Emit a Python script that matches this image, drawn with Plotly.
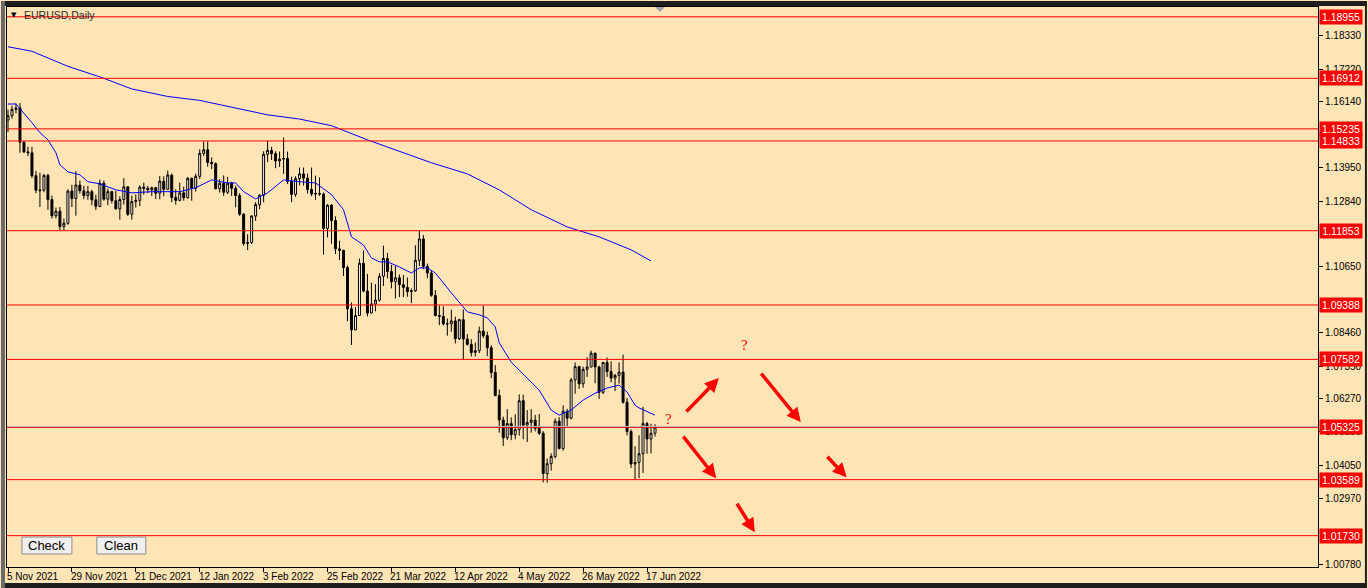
import plotly.graph_objects as go

# ---------------- data ----------------
opens = [1.1553, 1.1567, 1.1588, 1.1593, 1.1479, 1.1447, 1.1444, 1.1368, 1.1318, 1.1320,
         1.1369, 1.1289, 1.1235, 1.1250, 1.1199, 1.1210, 1.1317, 1.1292, 1.1337, 1.1318,
         1.1302, 1.1315, 1.1288, 1.1266, 1.1343, 1.1290, 1.1315, 1.1285, 1.1258, 1.1289,
         1.1331, 1.1240, 1.1282, 1.1286, 1.1330, 1.1326, 1.1321, 1.1328, 1.1310, 1.1350,
         1.1323, 1.1370, 1.1296, 1.1286, 1.1311, 1.1295, 1.1359, 1.1326, 1.1366, 1.1442,
         1.1454, 1.1412, 1.1408, 1.1325, 1.1343, 1.1313, 1.1343, 1.1326, 1.1302, 1.1240,
         1.1143, 1.1146, 1.1234, 1.1272, 1.1303, 1.1439, 1.1452, 1.1441, 1.1417, 1.1423,
         1.1425, 1.1349, 1.1306, 1.1358, 1.1374, 1.1360, 1.1322, 1.1307, 1.1309, 1.1307,
         1.1193, 1.1270, 1.1219, 1.1125, 1.1120, 1.1063, 1.0926, 1.0856, 1.0904, 1.1077,
         1.0985, 1.0912, 1.0942, 1.0955, 1.1034, 1.1093, 1.1050, 1.1016, 1.1029, 1.1006,
         1.0997, 1.0983, 1.0986, 1.1087, 1.1158, 1.1067, 1.1045, 1.0971, 1.0904, 1.0901,
         1.0876, 1.0876, 1.0886, 1.0827, 1.0890, 1.0826, 1.0808, 1.0781, 1.0787, 1.0852,
         1.0837, 1.0797, 1.0715, 1.0638, 1.0557, 1.0498, 1.0545, 1.0508, 1.0525, 1.0621,
         1.0540, 1.0549, 1.0557, 1.0529, 1.0513, 1.0379, 1.0412, 1.0436, 1.0553, 1.0462,
         1.0586, 1.0563, 1.0690, 1.0734, 1.0677, 1.0725, 1.0733, 1.0779, 1.0733, 1.0649,
         1.0748, 1.0718, 1.0696, 1.0705, 1.0716, 1.0616, 1.0519, 1.0411, 1.0416, 1.0445,
         1.0545, 1.0494, 1.0513]
highs = [1.1587, 1.1600, 1.1608, 1.1609, 1.1483, 1.1464, 1.1464, 1.1384, 1.1378, 1.1374,
         1.1374, 1.1302, 1.1262, 1.1264, 1.1226, 1.1323, 1.1338, 1.1383, 1.1352, 1.1334,
         1.1334, 1.1321, 1.1305, 1.1355, 1.1352, 1.1325, 1.1318, 1.1318, 1.1300, 1.1360,
         1.1333, 1.1302, 1.1306, 1.1336, 1.1345, 1.1334, 1.1332, 1.1331, 1.1367, 1.1366,
         1.1385, 1.1375, 1.1323, 1.1345, 1.1332, 1.1364, 1.1362, 1.1375, 1.1455, 1.1482,
         1.1482, 1.1429, 1.1412, 1.1356, 1.1369, 1.1364, 1.1348, 1.1335, 1.1310, 1.1244,
         1.1174, 1.1237, 1.1280, 1.1306, 1.1449, 1.1483, 1.1464, 1.1449, 1.1448, 1.1495,
         1.1448, 1.1365, 1.1366, 1.1395, 1.1395, 1.1375, 1.1395, 1.1368, 1.1362, 1.1312,
         1.1274, 1.1274, 1.1233, 1.1152, 1.1122, 1.1070, 1.0947, 1.0932, 1.1093, 1.1120,
         1.1042, 1.1013, 1.1008, 1.1044, 1.1136, 1.1112, 1.1072, 1.1068, 1.1040, 1.1038,
         1.1030, 1.0994, 1.1137, 1.1185, 1.1171, 1.1076, 1.1054, 1.0988, 1.0937, 1.0934,
         1.0894, 1.0923, 1.0900, 1.0893, 1.0924, 1.0842, 1.0825, 1.0814, 1.0867, 1.0936,
         1.0850, 1.0805, 1.0739, 1.0658, 1.0568, 1.0593, 1.0566, 1.0576, 1.0642, 1.0641,
         1.0590, 1.0593, 1.0574, 1.0577, 1.0520, 1.0429, 1.0446, 1.0562, 1.0566, 1.0606,
         1.0594, 1.0697, 1.0748, 1.0737, 1.0734, 1.0765, 1.0787, 1.0780, 1.0737, 1.0750,
         1.0764, 1.0752, 1.0710, 1.0748, 1.0774, 1.0630, 1.0525, 1.0470, 1.0506, 1.0601,
         1.0551, 1.0545, 1.0543]
lows = [1.1513, 1.1557, 1.1575, 1.1444, 1.1443, 1.1433, 1.1360, 1.1310, 1.1264, 1.1313,
        1.1255, 1.1226, 1.1226, 1.1186, 1.1186, 1.1205, 1.1264, 1.1235, 1.1308, 1.1290,
        1.1288, 1.1270, 1.1254, 1.1263, 1.1285, 1.1270, 1.1276, 1.1255, 1.1222, 1.1272,
        1.1234, 1.1222, 1.1262, 1.1267, 1.1305, 1.1310, 1.1300, 1.1290, 1.1290, 1.1300,
        1.1320, 1.1280, 1.1272, 1.1283, 1.1285, 1.1292, 1.1285, 1.1315, 1.1357, 1.1433,
        1.1398, 1.1390, 1.1322, 1.1312, 1.1301, 1.1307, 1.1301, 1.1263, 1.1235, 1.1136,
        1.1121, 1.1141, 1.1218, 1.1257, 1.1280, 1.1413, 1.1420, 1.1393, 1.1397, 1.1374,
        1.1340, 1.1280, 1.1298, 1.1336, 1.1335, 1.1309, 1.1300, 1.1288, 1.1301, 1.1106,
        1.1163, 1.1142, 1.1108, 1.1088, 1.1035, 1.0885, 1.0806, 1.0855, 1.0902, 1.0981,
        1.0901, 1.0911, 1.0918, 1.0950, 1.1002, 1.1027, 1.0994, 1.0960, 1.0965, 1.0965,
        1.0966, 1.0945, 1.0982, 1.1068, 1.1058, 1.1028, 1.0966, 1.0901, 1.0872, 1.0871,
        1.0837, 1.0850, 1.0811, 1.0822, 1.0758, 1.0804, 1.0768, 1.0768, 1.0779, 1.0829,
        1.0769, 1.0696, 1.0636, 1.0515, 1.0471, 1.0491, 1.0490, 1.0493, 1.0505, 1.0493,
        1.0484, 1.0515, 1.0519, 1.0507, 1.0350, 1.0349, 1.0389, 1.0429, 1.0459, 1.0455,
        1.0533, 1.0559, 1.0644, 1.0660, 1.0664, 1.0700, 1.0732, 1.0679, 1.0627, 1.0643,
        1.0700, 1.0682, 1.0653, 1.0678, 1.0611, 1.0506, 1.0398, 1.0359, 1.0364, 1.0381,
        1.0445, 1.0446, 1.0502]
closes = [1.1567, 1.1588, 1.1593, 1.1479, 1.1447, 1.1444, 1.1368, 1.1320, 1.1320, 1.1369,
          1.1289, 1.1235, 1.1250, 1.1199, 1.1210, 1.1317, 1.1292, 1.1337, 1.1318, 1.1302,
          1.1315, 1.1288, 1.1266, 1.1343, 1.1290, 1.1315, 1.1285, 1.1258, 1.1289, 1.1331,
          1.1240, 1.1282, 1.1286, 1.1330, 1.1326, 1.1321, 1.1328, 1.1310, 1.1350, 1.1323,
          1.1370, 1.1296, 1.1286, 1.1311, 1.1295, 1.1359, 1.1326, 1.1366, 1.1442, 1.1454,
          1.1412, 1.1408, 1.1325, 1.1343, 1.1313, 1.1343, 1.1326, 1.1302, 1.1240, 1.1143,
          1.1146, 1.1234, 1.1272, 1.1303, 1.1439, 1.1452, 1.1441, 1.1417, 1.1423, 1.1425,
          1.1349, 1.1306, 1.1358, 1.1374, 1.1360, 1.1322, 1.1307, 1.1309, 1.1307, 1.1193,
          1.1270, 1.1219, 1.1125, 1.1120, 1.1063, 1.0926, 1.0856, 1.0904, 1.1077, 1.0985,
          1.0912, 1.0942, 1.0955, 1.1034, 1.1093, 1.1050, 1.1016, 1.1029, 1.1006, 1.0997,
          1.0983, 1.0986, 1.1087, 1.1158, 1.1067, 1.1045, 1.0971, 1.0904, 1.0901, 1.0876,
          1.0876, 1.0886, 1.0827, 1.0890, 1.0826, 1.0808, 1.0781, 1.0787, 1.0852, 1.0837,
          1.0797, 1.0715, 1.0638, 1.0557, 1.0498, 1.0545, 1.0508, 1.0525, 1.0621, 1.0540,
          1.0549, 1.0557, 1.0529, 1.0513, 1.0379, 1.0412, 1.0436, 1.0553, 1.0462, 1.0586,
          1.0563, 1.0690, 1.0734, 1.0677, 1.0725, 1.0733, 1.0779, 1.0733, 1.0649, 1.0748,
          1.0718, 1.0696, 1.0705, 1.0716, 1.0616, 1.0519, 1.0411, 1.0416, 1.0445, 1.0545,
          1.0494, 1.0513, 1.0533]

# short moving average: (bar index, value)
ma_fast_bars = [0, 2, 6, 8, 10, 12, 13, 15, 18, 20, 23, 27, 31, 36, 40, 43, 47, 51, 55, 57,
                59, 62, 65, 69, 73, 77, 81, 84, 86, 89, 91, 93, 95, 98, 101, 103, 105, 107,
                111, 115, 118, 120, 122, 123, 126, 128, 130, 133, 136, 138, 141, 144, 147,
                150, 153, 155, 157, 158, 162]
ma_fast_vals = [1.1606, 1.1606, 1.1544, 1.1511, 1.1487, 1.1444, 1.1404, 1.1381, 1.1371, 1.1348,
                1.1341, 1.1321, 1.1311, 1.1315, 1.1315, 1.1315, 1.1328, 1.1354, 1.1344, 1.1344,
                1.1315, 1.1291, 1.1311, 1.1354, 1.1348, 1.1344, 1.1305, 1.1255, 1.1165, 1.1138,
                1.1095, 1.1082, 1.1082, 1.1065, 1.1045, 1.1062, 1.1062, 1.1045, 1.0979, 1.0916,
                1.0906, 1.0896, 1.0866, 1.0813, 1.0749, 1.0723, 1.0696, 1.0656, 1.0590, 1.0573,
                1.0590, 1.0623, 1.0646, 1.0663, 1.0673, 1.0650, 1.0606, 1.0597, 1.0573]
# long moving average: (bar index, value)
ma_slow_bars = [0, 6, 15, 23, 31, 40, 48, 56, 65, 73, 81, 90, 98, 106, 115, 123, 131, 140,
                148, 156, 161]
ma_slow_vals = [1.1796, 1.1781, 1.1731, 1.1696, 1.1656, 1.1631, 1.1618, 1.1596, 1.1570,
                1.1556, 1.1534, 1.1487, 1.1449, 1.1411, 1.1374, 1.1321, 1.1255, 1.1198,
                1.1165, 1.1122, 1.1085]

level_values = [1.18955, 1.16912, 1.15235, 1.14833, 1.11853, 1.09388, 1.07582, 1.05325,
                1.03589, 1.01730]
bid_value = 1.05325

price_ticks = [1.18330, 1.17220, 1.16140, 1.13950, 1.12840, 1.10650, 1.08460, 1.07350,
               1.06270, 1.05180, 1.04050, 1.02970, 1.00780]
date_tick_bars = [0, 16, 32, 48, 64, 80, 96, 112, 128, 144, 160]
date_tick_labels = ["5 Nov 2021", "29 Nov 2021", "21 Dec 2021", "12 Jan 2022", "3 Feb 2022",
                    "25 Feb 2022", "21 Mar 2022", "12 Apr 2022", "4 May 2022", "26 May 2022",
                    "17 Jun 2022"]

# hand-drawn arrows: (tail bar, tail price, head bar, head price)
arrow_tail_bars = [169.5, 188.3, 168.8, 204.8, 182.3]
arrow_tail_prices = [1.0580, 1.0716, 1.0507, 1.0440, 1.0284]
arrow_head_bars = [178.0, 198.5, 177.3, 210.0, 187.0]
arrow_head_prices = [1.0696, 1.0550, 1.0364, 1.0367, 1.0184]
question_bars = [184.5, 165.3]
question_prices = [1.0806, 1.0560]

# ---------------- figure ----------------
W, H = 1368, 588
ML, MR, MT, MB = 6, 49, 6, 21
PW, PH = W - ML - MR, H - MT - MB
BG = "#FFE4B5"
FONT = "Liberation Sans, Arial, sans-serif"


def xp(px):
    return (px - ML) / PW


def yp(py):
    return (H - MB - py) / PH


bars = list(range(len(opens)))

fig = go.Figure()
fig.add_trace(go.Candlestick(
    x=bars, open=opens, high=highs, low=lows, close=closes,
    increasing=dict(line=dict(color="black", width=1), fillcolor="white"),
    decreasing=dict(line=dict(color="black", width=1), fillcolor="black"),
    whiskerwidth=0, showlegend=False, hoverinfo="skip"))
fig.add_trace(go.Scatter(x=ma_slow_bars, y=ma_slow_vals, mode="lines",
                         line=dict(color="#0000FF", width=1), showlegend=False, hoverinfo="skip"))
fig.add_trace(go.Scatter(x=ma_fast_bars, y=ma_fast_vals, mode="lines",
                         line=dict(color="#0000FF", width=1), showlegend=False, hoverinfo="skip"))

shapes = []
for v in level_values:
    shapes.append(dict(type="line", xref="paper", x0=0, x1=1, yref="y", y0=v, y1=v,
                       line=dict(color="#FF0000", width=1), layer="above"))
shapes.append(dict(type="line", xref="paper", x0=0, x1=1, yref="y", y0=bid_value + 0.00033,
                   y1=bid_value + 0.00033, line=dict(color="#B4B9C8", width=1), layer="above"))

# window frame
frame = [(0, 0, W, 5, "#1E1E1E"), (0, H - 5, W, H, "#1E1E1E"), (0, 0, 4, H, "#6A6A6A"),
         (W - 2, 0, W, H, "#1E1E1E")]
for x0, y0, x1, y1, c in frame:
    shapes.append(dict(type="rect", xref="paper", yref="paper", x0=xp(x0), x1=xp(x1),
                       y0=yp(y1), y1=yp(y0), fillcolor=c, line=dict(width=0), layer="above"))
# small gray marker at top
shapes.append(dict(type="path", xref="paper", yref="paper",
                   path=f"M {xp(655)} {yp(6)} L {xp(665)} {yp(6)} L {xp(660)} {yp(11)} Z",
                   fillcolor="#A0A4B0", line=dict(width=0), layer="above"))
# buttons
for bx0, bx1 in [(21, 71), (96, 145)]:
    shapes.append(dict(type="rect", xref="paper", yref="paper", x0=xp(bx0), x1=xp(bx1),
                       y0=yp(554), y1=yp(537), fillcolor="#F0F0F0",
                       line=dict(color="#8C8C8C", width=1), layer="above"))

annotations = []
for v in level_values:
    annotations.append(dict(x=1, xref="paper", xanchor="left", xshift=1, y=v, yref="y",
                            yanchor="middle", text=f"{v:.5f}", showarrow=False,
                            bgcolor="#FF0000", borderpad=1, width=40,
                            font=dict(family=FONT, size=10.5, color="white")))
for b, lab in zip(date_tick_bars, date_tick_labels):
    annotations.append(dict(x=b, xref="x", xanchor="left", xshift=-3, y=0, yref="paper",
                            yanchor="top", yshift=-2, text=lab, showarrow=False,
                            font=dict(family=FONT, size=10, color="black")))
for tb, tp, hb, hp in zip(arrow_tail_bars, arrow_tail_prices, arrow_head_bars, arrow_head_prices):
    annotations.append(dict(x=hb, y=hp, xref="x", yref="y", ax=tb, ay=tp, axref="x", ayref="y",
                            text="", showarrow=True, arrowhead=2, arrowsize=0.8,
                            arrowwidth=3.5, arrowcolor="#FF0000", standoff=0))
for qb, qp in zip(question_bars, question_prices):
    annotations.append(dict(x=qb, y=qp, xref="x", yref="y", text="?", showarrow=False,
                            font=dict(family="Liberation Serif, serif", size=15, color="#FF0000")))
annotations.append(dict(x=xp(21), y=yp(14), xref="paper", yref="paper", xanchor="left",
                        yanchor="middle", text="EURUSD,Daily", showarrow=False,
                        font=dict(family=FONT, size=10.5, color="#2A2A2A")))
annotations.append(dict(x=xp(13), y=yp(14), xref="paper", yref="paper", xanchor="center",
                        yanchor="middle", text="▼", showarrow=False,
                        font=dict(family="DejaVu Sans", size=7, color="black")))
for cx, lab in [(46, "Check"), (120.5, "Clean")]:
    annotations.append(dict(x=xp(cx), y=yp(545.5), xref="paper", yref="paper", xanchor="center",
                            yanchor="middle", text=lab, showarrow=False,
                            font=dict(family=FONT, size=13, color="black")))

fig.update_layout(
    width=W, height=H, margin=dict(l=ML, r=MR, t=MT, b=MB, pad=0),
    paper_bgcolor=BG, plot_bgcolor=BG, showlegend=False,
    shapes=shapes, annotations=annotations,
    xaxis=dict(range=[-0.25, -0.25 + PW / 4], rangeslider=dict(visible=False),
               showgrid=False, zeroline=False, showline=True, mirror=True,
               linecolor="black", linewidth=1, ticks="outside", ticklen=4,
               tickcolor="black", tickvals=date_tick_bars, showticklabels=False,
               fixedrange=True),
    yaxis=dict(range=[1.0069, 1.1928], side="right", showgrid=False, zeroline=False,
               showline=True, mirror=True, linecolor="black", linewidth=1,
               ticks="outside", ticklen=4, tickcolor="black", tickvals=price_ticks,
               tickformat=".5f", tickfont=dict(family=FONT, size=10, color="black"),
               fixedrange=True),
)

fig.write_html("out.html", config={"displayModeBar": False, "staticPlot": True},
               post_script="document.body.style.margin='0';document.body.style.overflow='hidden';")
